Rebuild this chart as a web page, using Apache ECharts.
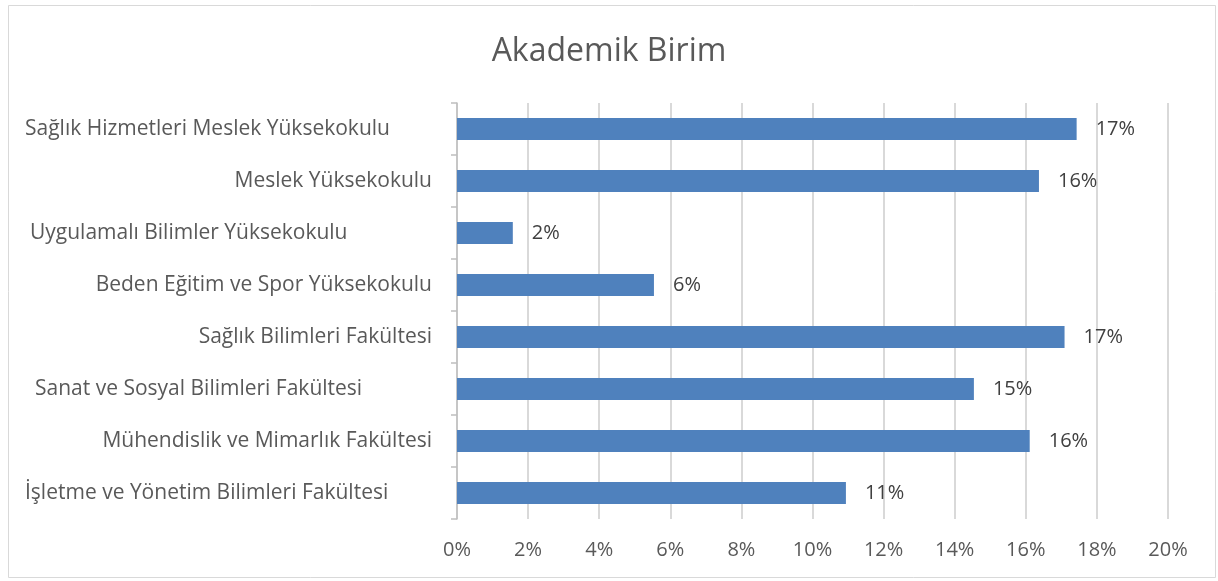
<!DOCTYPE html>
<html>
<head>
<meta charset="utf-8">
<script src="https://cdn.jsdelivr.net/npm/echarts@6/dist/echarts.min.js"></script>
<style>
  html, body { margin: 0; padding: 0; background: #fff; }
  #chart { width: 1218px; height: 581px; }
</style>
</head>
<body>
<div id="chart"></div>
<script>
// top to bottom, as shown
const units = [
  'Sağlık Hizmetleri Meslek Yüksekokulu',
  'Meslek Yüksekokulu',
  'Uygulamalı Bilimler Yüksekokulu',
  'Beden Eğitim ve Spor Yüksekokulu',
  'Sağlık Bilimleri Fakültesi',
  'Sanat ve Sosyal Bilimleri Fakültesi',
  'Mühendislik ve Mimarlık Fakültesi',
  'İşletme ve Yönetim Bilimleri Fakültesi'
]
const shares = [17.43, 16.37, 1.57, 5.54, 17.09, 14.54, 16.11, 10.94]

// Excel left-aligns some of the labels (trailing spaces in the source, probably)
const leftStart = { 0: 25, 2: 30, 5: 35, 7: 25 }
const labelRight = 432

const chart = echarts.init(document.getElementById('chart'))

const font = '"Open Sans", Lato, sans-serif'

chart.setOption({
  backgroundColor: '#fff',
  animation: false,
  title: {
    text: 'Akademik Birim',
    left: 'center',
    top: 31,
    textStyle: { fontFamily: font, fontSize: 32, fontWeight: 'normal', color: '#595959' }
  },
  graphic: [{
    type: 'rect',
    shape: { x: 8.5, y: 5.5, width: 1207, height: 572 },
    style: { fill: 'none', stroke: '#d9d9d9', lineWidth: 1 },
    silent: true
  }],
  grid: { left: 457, right: 50, top: 103, bottom: 62 },
  xAxis: {
    type: 'value',
    min: 0,
    max: 20,
    interval: 2,
    axisLine: { show: false },
    axisTick: { show: false },
    axisLabel: {
      formatter: '{value}%',
      margin: 21,
      color: '#595959',
      fontFamily: font,
      fontSize: 20
    },
    splitLine: { lineStyle: { color: '#d9d9d9', width: 2 } }
  },
  yAxis: {
    type: 'category',
    inverse: true,
    data: units,
    axisLine: { lineStyle: { color: '#bfbfbf', width: 1.5 } },
    axisTick: { show: true, length: 6, lineStyle: { color: '#bfbfbf', width: 1.5 } },
    axisLabel: {
      margin: 25,
      color: '#595959',
      fontFamily: font,
      fontSize: 21,
      formatter: (v, i) => leftStart[i] != null ? '{l' + i + '|' + v + '}' : v,
      rich: Object.fromEntries(Object.entries(leftStart).map(([i, x]) => ['l' + i, {
        width: labelRight - x,
        align: 'left',
        fontFamily: font,
        fontSize: 21,
        color: '#595959'
      }]))
    }
  },
  series: [{
    type: 'bar',
    data: shares,
    barWidth: 22,
    itemStyle: { color: '#4f81bd' },
    label: {
      show: true,
      position: 'right',
      distance: 19,
      formatter: p => Math.round(p.value) + '%',
      color: '#404040',
      fontFamily: font,
      fontSize: 20
    }
  }]
})
</script>
</body>
</html>
